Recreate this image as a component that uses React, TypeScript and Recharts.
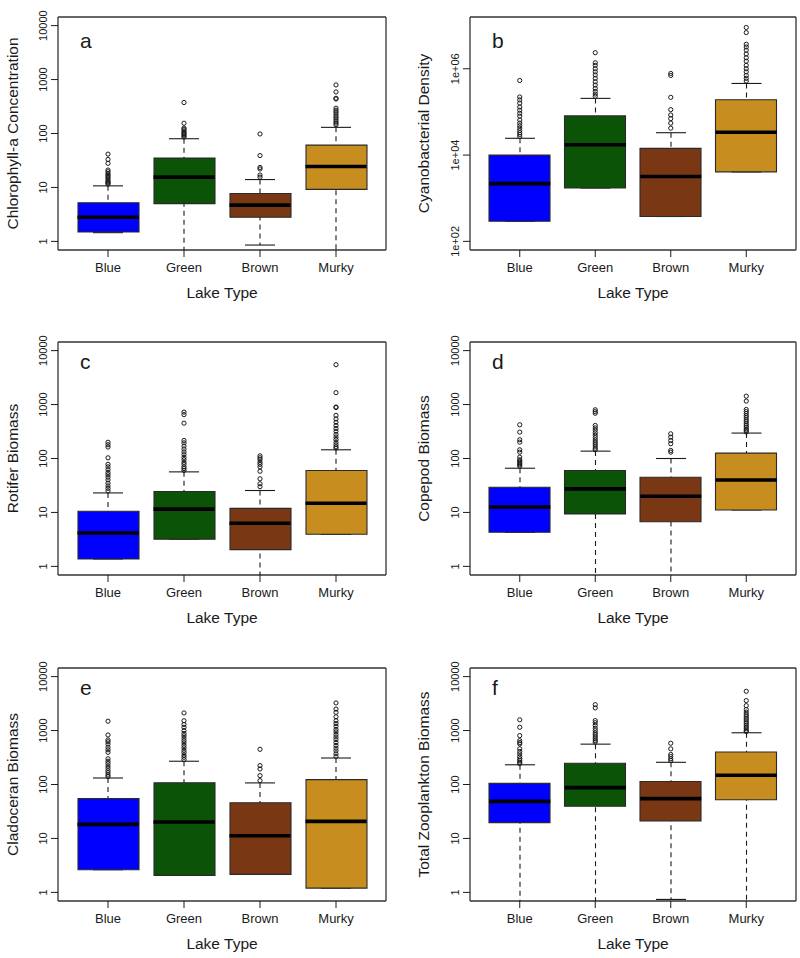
import React from 'react'
import { ComposedChart, Bar, Scatter, XAxis, YAxis, Cell, CartesianGrid } from 'recharts'

const lakeTypes = ['Blue', 'Green', 'Brown', 'Murky']
const lakeColors = ['#0000ff', '#0b5306', '#7a3714', '#c78e1f']

const logTicks = [1, 10, 100, 1000, 10000]
const logTickLabels = ['1', '10', '100', '1000', '10000']
const cyanoTicks = [100, 10000, 1000000]
const cyanoTickLabels = ['1e+02', '1e+04', '1e+06']

// a - chlorophyll-a
const chlLo = [1.45, 0.3, 0.855, 0.3]
const chlQ1 = [1.49, 5.0, 2.8, 9.2]
const chlMed = [2.8, 15.5, 4.7, 24.5]
const chlQ3 = [5.2, 35, 7.7, 61]
const chlHi = [10.7, 80, 14, 130]
const chlOut = [
  [11.5, 12, 12.5, 13, 14, 15, 16, 17, 18, 19.5, 21, 28, 33, 41.5],
  [86, 90, 95, 100, 105, 112, 120, 126, 155, 375],
  [15.5, 17, 22, 23.5, 39, 98],
  [145, 155, 165, 180, 195, 210, 230, 250, 270, 295, 436, 450, 590, 795],
]

// b - cyanobacteria
const cyaLo = [293, 1726, 377, 4080]
const cyaQ1 = [293, 1726, 377, 4080]
const cyaMed = [2180, 17400, 3180, 33700]
const cyaQ3 = [10000, 81000, 14300, 192000]
const cyaHi = [24500, 206000, 33000, 457000]
const cyaOut = [
  [27000, 30000, 33000, 37000, 42000, 48000, 55000, 65000, 80000, 93000, 110000, 130000, 160000, 190000, 222000, 535000],
  [230000, 260000, 300000, 350000, 420000, 500000, 600000, 720000, 850000, 1000000, 1200000, 1380000, 2360000],
  [42000, 55000, 70000, 85000, 113000, 218000, 700000, 780000],
  [520000, 600000, 700000, 850000, 1000000, 1200000, 1500000, 1800000, 2200000, 2700000, 3200000, 3700000, 6900000, 9060000],
]

// c - rotifers
const rotLo = [1.37, 3.2, 0.3, 3.93]
const rotQ1 = [1.37, 3.2, 2.04, 3.93]
const rotMed = [4.16, 11.5, 6.3, 14.8]
const rotQ3 = [10.5, 24.4, 11.9, 60]
const rotHi = [23, 56.5, 25.5, 145]
const rotOut = [
  [25, 28, 31, 35, 40, 45, 50, 55, 62, 70, 78, 103, 163, 180, 200],
  [60, 65, 70, 78, 85, 95, 105, 118, 132, 150, 170, 195, 216, 452, 650, 725],
  [30, 34, 42, 58, 70, 78, 85, 95, 103, 112],
  [155, 165, 180, 200, 225, 250, 280, 320, 360, 410, 470, 540, 630, 880, 900, 1660, 5480],
]

// d - copepods
const copLo = [4.28, 0.3, 0.3, 11.1]
const copQ1 = [4.28, 9.4, 6.7, 11.1]
const copMed = [12.6, 27.3, 20, 40]
const copQ3 = [29.3, 60, 45, 126]
const copHi = [66, 137, 100, 296]
const copOut = [
  [72, 76, 80, 85, 90, 95, 106, 131, 145, 201, 223, 309, 422],
  [145, 155, 170, 185, 200, 220, 245, 270, 300, 335, 370, 410, 690, 740, 800],
  [131, 141, 188, 215, 249, 287],
  [310, 330, 350, 380, 410, 440, 480, 520, 570, 620, 680, 740, 810, 1160, 1430],
]

// e - cladocerans
const claLo = [2.63, 2.07, 2.16, 1.2]
const claQ1 = [2.63, 2.07, 2.16, 1.2]
const claMed = [18.2, 20.2, 11.2, 20.7]
const claQ3 = [54.6, 108, 46, 123]
const claHi = [132, 270, 107, 310]
const claOut = [
  [140, 150, 165, 180, 200, 220, 245, 270, 300, 395, 440, 490, 560, 620, 670, 828, 1490],
  [290, 320, 350, 390, 430, 480, 530, 590, 650, 720, 800, 880, 1000, 1150, 1300, 1520, 2120],
  [118, 146, 194, 224, 449],
  [330, 370, 420, 470, 530, 600, 680, 760, 850, 950, 1050, 1200, 1350, 1520, 1800, 2180, 2500, 3250],
]

// f - total zooplankton
const zooLo = [0.3, 0.3, 0.74, 0.3]
const zooQ1 = [19.6, 39.4, 21, 52.3]
const zooMed = [48.7, 87.6, 54.6, 148]
const zooQ3 = [105, 247, 114, 400]
const zooHi = [232, 560, 258, 910]
const zooOut = [
  [245, 260, 280, 300, 330, 370, 410, 460, 565, 600, 650, 807, 1150, 1580],
  [610, 650, 700, 760, 830, 900, 1000, 1100, 1250, 1400, 1530, 2630, 3020],
  [278, 300, 330, 360, 458, 582],
  [960, 1000, 1080, 1160, 1250, 1350, 1450, 1580, 1700, 1850, 2000, 2200, 2450, 2900, 3590, 5350],
]

const bioDomain = [0.692, 14450]
const cyaDomain = [63.1, 15850000]

const panels = [
  { letter: 'a', title: 'Chlorophyll-a Concentration', lo: chlLo, q1: chlQ1, med: chlMed, q3: chlQ3, hi: chlHi, out: chlOut, ticks: logTicks, tickLabels: logTickLabels, domain: bioDomain },
  { letter: 'b', title: 'Cyanobacterial Density', lo: cyaLo, q1: cyaQ1, med: cyaMed, q3: cyaQ3, hi: cyaHi, out: cyaOut, ticks: cyanoTicks, tickLabels: cyanoTickLabels, domain: cyaDomain },
  { letter: 'c', title: 'Rotifer Biomass', lo: rotLo, q1: rotQ1, med: rotMed, q3: rotQ3, hi: rotHi, out: rotOut, ticks: logTicks, tickLabels: logTickLabels, domain: bioDomain },
  { letter: 'd', title: 'Copepod Biomass', lo: copLo, q1: copQ1, med: copMed, q3: copQ3, hi: copHi, out: copOut, ticks: logTicks, tickLabels: logTickLabels, domain: bioDomain },
  { letter: 'e', title: 'Cladoceran Biomass', lo: claLo, q1: claQ1, med: claMed, q3: claQ3, hi: claHi, out: claOut, ticks: logTicks, tickLabels: logTickLabels, domain: bioDomain },
  { letter: 'f', title: 'Total Zooplankton Biomass', lo: zooLo, q1: zooQ1, med: zooMed, q3: zooQ3, hi: zooHi, out: zooOut, ticks: logTicks, tickLabels: logTickLabels, domain: bioDomain },
]

const FONT = '"Liberation Sans", Arial, Helvetica, sans-serif'
const INK = '#1a1a1a'

function WhiskerShape(p: any) {
  const { x, y, width, height } = p
  if (x == null || y == null) return null
  const cx = x + width / 2
  return (
    <g stroke={INK} strokeWidth={1.1} fill="none">
      <line x1={cx} x2={cx} y1={y} y2={y + height} strokeDasharray="5 4" />
      <line x1={x} x2={x + width} y1={y} y2={y} />
      <line x1={x} x2={x + width} y1={y + height} y2={y + height} />
    </g>
  )
}

function MedianShape(p: any) {
  const { cx, cy } = p
  if (cx == null || cy == null) return null
  return <line x1={cx - 30.5} x2={cx + 30.5} y1={cy} y2={cy} stroke="#000" strokeWidth={3.6} />
}

function OutlierShape(p: any) {
  const { cx, cy } = p
  if (cx == null || cy == null) return null
  return <circle cx={cx} cy={cy} r={2.1} fill="none" stroke={INK} strokeWidth={1} />
}

function YTick(props: any) {
  const { x, y, payload, ticks, labels } = props
  const i = ticks.indexOf(payload.value)
  const text = i >= 0 ? labels[i] : String(payload.value)
  return (
    <text x={x} y={y} transform={`rotate(-90 ${x} ${y})`} textAnchor="middle" fontSize={11} fill={INK} fontFamily={FONT}>
      {text}
    </text>
  )
}

function BoxPanel({ spec, left, top, right }: any) {
  const data = lakeTypes.map((cat, i) => ({
    cat,
    whisk: [spec.lo[i], spec.hi[i]],
    box: [spec.q1[i], spec.q3[i]],
    med: spec.med[i],
  }))
  const outData = lakeTypes.flatMap((cat, i) => spec.out[i].map((v: number) => ({ cat, v })))
  const yWidth = right ? 70 : 58
  const titleBase = right ? 29 : 18
  const letterBase = top === 0 ? 48 : 44

  return (
    <div style={{ position: 'absolute', left, top, width: 400, height: 320 }}>
      <ComposedChart width={400} height={320} data={data} margin={{ top: 17, right: right ? 4 : 14, left: 0, bottom: 0 }}>
        <CartesianGrid
          stroke="#333"
          strokeWidth={1.3}
          horizontalCoordinatesGenerator={({ offset }: any) => [offset.top, offset.top + offset.height]}
          verticalCoordinatesGenerator={({ offset }: any) => [offset.left, offset.left + offset.width]}
        />
        <XAxis
          dataKey="cat"
          allowDuplicatedCategory={false}
          padding={{ left: 12, right: 12 }}
          height={70}
          axisLine={false}
          tickSize={7}
          tickMargin={6}
          tickLine={{ stroke: INK }}
          tick={{ fontSize: 13, fill: INK, fontFamily: FONT }}
          interval={0}
          label={{
            content: (lp: any) => {
              const vb = lp.viewBox || {}
              return (
                <text x={vb.x + vb.width / 2} y={vb.y + 48} textAnchor="middle" fontSize={15.5} fill={INK} fontFamily={FONT}>
                  Lake Type
                </text>
              )
            },
          }}
        />
        <XAxis xAxisId="w" dataKey="cat" allowDuplicatedCategory={false} padding={{ left: 12, right: 12 }} hide />
        <YAxis
          scale="log"
          type="number"
          domain={spec.domain}
          allowDataOverflow
          ticks={spec.ticks}
          interval={0}
          width={yWidth}
          axisLine={false}
          tickSize={7}
          tickMargin={4}
          tickLine={{ stroke: INK }}
          tick={<YTick ticks={spec.ticks} labels={spec.tickLabels} />}
          label={{
            content: (lp: any) => {
              const vb = lp.viewBox || {}
              const bx = vb.x + titleBase
              const by = vb.y + vb.height / 2
              return (
                <text x={bx} y={by} transform={`rotate(-90 ${bx} ${by})`} textAnchor="middle" fontSize={15.5} fill={INK} fontFamily={FONT}>
                  {spec.title}
                </text>
              )
            },
          }}
        />
        <Bar xAxisId="w" dataKey="whisk" barSize={30} shape={WhiskerShape} isAnimationActive={false} />
        <Bar dataKey="box" barSize={61} stroke="#2a2a2a" strokeWidth={1.1} isAnimationActive={false}>
          {data.map((d, i) => (
            <Cell key={d.cat} fill={lakeColors[i]} />
          ))}
        </Bar>
        <Scatter dataKey="med" shape={MedianShape} isAnimationActive={false} />
        <Scatter data={outData} dataKey="v" shape={OutlierShape} isAnimationActive={false} />
      </ComposedChart>
      <svg width={400} height={320} style={{ position: 'absolute', left: 0, top: 0, pointerEvents: 'none' }}>
        <text x={right ? 92 : 80} y={letterBase} fontSize={21} fill={INK} fontFamily={FONT}>
          {spec.letter}
        </text>
      </svg>
    </div>
  )
}

const rowTops = [0, 325, 651]

export default function App() {
  return (
    <div style={{ position: 'absolute', left: 0, top: 0, width: 800, height: 958, background: '#fff', fontFamily: FONT }}>
      {panels.map((spec, i) => (
        <BoxPanel key={spec.letter} spec={spec} left={i % 2 === 0 ? 0 : 400} top={rowTops[Math.floor(i / 2)]} right={i % 2 === 1} />
      ))}
    </div>
  )
}
